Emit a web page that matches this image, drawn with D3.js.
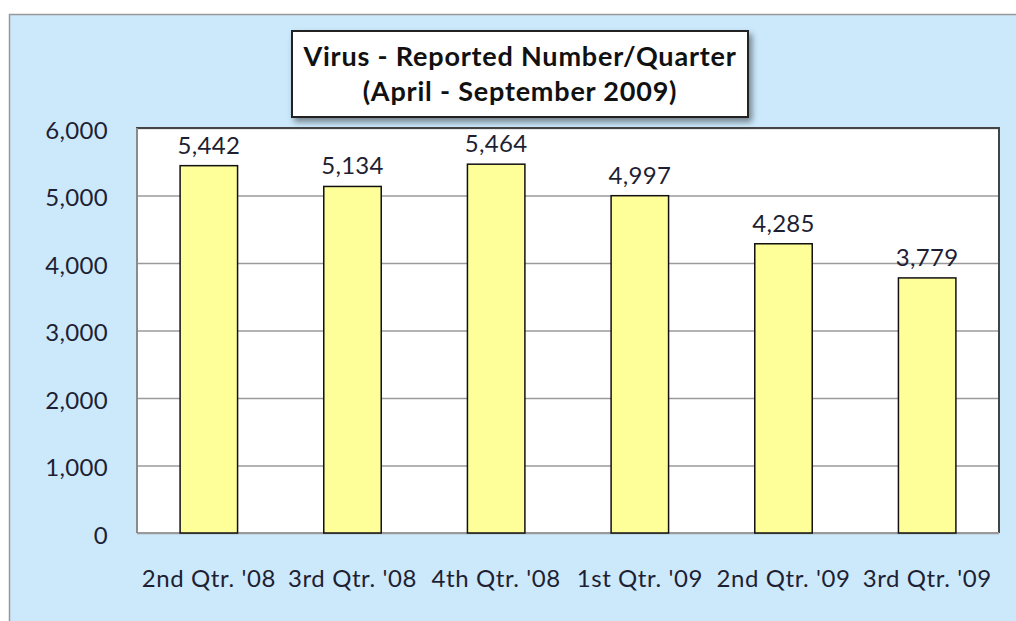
<!DOCTYPE html>
<html>
<head>
<meta charset="utf-8">
<script src="https://cdn.jsdelivr.net/npm/d3@7"></script>
<style>
  body { margin: 0; background: #fff; }
  svg text { font-family: Lato, "Open Sans", sans-serif; }
</style>
</head>
<body>
<div class="chart"></div>
<script>
// data
var quarters = ["2nd Qtr. '08", "3rd Qtr. '08", "4th Qtr. '08", "1st Qtr. '09", "2nd Qtr. '09", "3rd Qtr. '09"];
var reported = [5442, 5134, 5464, 4997, 4285, 3779];
var yTicks = [0, 1000, 2000, 3000, 4000, 5000, 6000];
var titleLines = ["Virus - Reported Number/Quarter", "(April - September 2009)"];

var svgWidth = 1016, svgHeight = 621;
var margin = {top: 128, right: 17, bottom: 88, left: 137};
var width = svgWidth - margin.left - margin.right;
var height = svgHeight - margin.top - margin.bottom;

var fmt = d3.format(",");
var textColor = "#1f1f33";

const root = d3.select(".chart").append("svg")
  .attr("width", svgWidth)
  .attr("height", svgHeight);

var defs = root.append("defs");
var shadow = defs.append("filter").attr("id", "shadow")
  .attr("x", "-10%").attr("y", "-20%").attr("width", "120%").attr("height", "150%");
shadow.append("feDropShadow")
  .attr("dx", 3).attr("dy", 4).attr("stdDeviation", 3)
  .attr("flood-color", "#000").attr("flood-opacity", 0.45);

// light blue chart area
root.append("rect")
  .attr("x", 9.5).attr("y", 14.5)
  .attr("width", 1016).attr("height", 620)
  .attr("fill", "#cce9fc")
  .attr("stroke", "#999")
  .attr("stroke-width", 1.5);

const svg = root.append("g")
  .attr("transform", "translate(" + margin.left + "," + margin.top + ")");

var xScale = d3.scaleBand()
  .domain(quarters)
  .range([0, width])
  .paddingInner(0.6)
  .paddingOuter(0.3);

var yScale = d3.scaleLinear()
  .domain([0, 6000])
  .range([height, 0]);

// plot area
svg.append("rect")
  .attr("width", width).attr("height", height)
  .attr("fill", "#fff");

// gridlines + y labels
var yAxis = svg.append("g")
  .call(d3.axisLeft(yScale)
    .tickValues(yTicks)
    .tickSize(-width)
    .tickFormat(d => d == 0 ? "0" : fmt(d)));

yAxis.select(".domain").remove();
yAxis.selectAll("line")
  .attr("stroke", "#9a9a9a")
  .attr("stroke-width", 1.5);
yAxis.selectAll("text")
  .attr("x", -29)
  .attr("dy", "0.42em")
  .attr("fill", textColor)
  .style("font-size", "24px")
  .style("letter-spacing", "0.3px");

// plot border
svg.append("path")
  .attr("d", "M0," + height + "V0H" + width + "V" + height)
  .attr("fill", "none")
  .attr("stroke", "#444")
  .attr("stroke-width", 2);
svg.append("line")
  .attr("x1", 0).attr("x2", width)
  .attr("y1", height).attr("y2", height)
  .attr("stroke", "#9a9a9a").attr("stroke-width", 2);
svg.append("line")
  .attr("x1", 0).attr("x2", 0)
  .attr("y1", 0).attr("y2", height)
  .attr("stroke", "#8a8a8a").attr("stroke-width", 2);

// bars
svg.selectAll(".bar")
  .data(reported)
  .enter()
  .append("rect")
  .attr("class", "bar")
  .attr("x", (d, i) => xScale(quarters[i]))
  .attr("y", d => yScale(d))
  .attr("width", xScale.bandwidth())
  .attr("height", d => height - yScale(d))
  .attr("fill", "#ffff99")
  .attr("stroke", "#111")
  .attr("stroke-width", 1.5);

// value labels
svg.selectAll(".val")
  .data(reported)
  .enter()
  .append("text")
  .attr("class", "val")
  .attr("x", (d, i) => xScale(quarters[i]) + xScale.bandwidth() / 2)
  .attr("y", d => yScale(d) - 12)
  .attr("text-anchor", "middle")
  .attr("fill", textColor)
  .style("font-size", "24px")
  .style("letter-spacing", "0.3px")
  .text(d => fmt(d));

// x axis labels
var xAxis = svg.append("g")
  .attr("transform", "translate(0," + height + ")")
  .call(d3.axisBottom(xScale).tickSize(0));
xAxis.select(".domain").remove();
xAxis.selectAll("text")
  .attr("y", 54)
  .attr("dy", 0)
  .attr("fill", textColor)
  .style("font-size", "24px")
  .style("letter-spacing", "0.6px");

// title box
var tb = root.append("g").attr("transform", "translate(292,31)");
tb.append("rect")
  .attr("width", 456).attr("height", 86)
  .attr("fill", "#fff")
  .attr("stroke", "#222")
  .attr("stroke-width", 2)
  .attr("filter", "url(#shadow)");
tb.selectAll("text")
  .data(titleLines)
  .enter()
  .append("text")
  .attr("x", 228)
  .attr("y", (d, i) => 35 + i * 35)
  .attr("text-anchor", "middle")
  .attr("fill", "#111")
  .style("font-size", "27px")
  .style("font-weight", "bold")
  .style("letter-spacing", "0.8px")
  .text(d => d);
</script>
</body>
</html>
